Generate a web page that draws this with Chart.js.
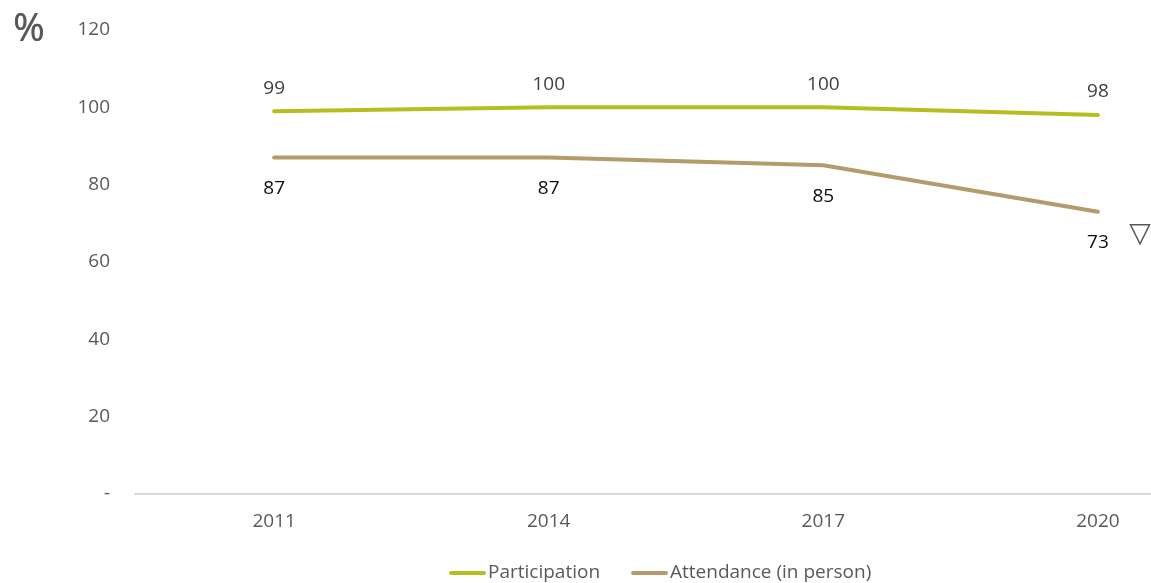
<!DOCTYPE html>
<html>
<head>
<meta charset="utf-8">
<script src="https://cdn.jsdelivr.net/npm/chart.js@4.4.1/dist/chart.umd.min.js"></script>
<style>
  html, body { margin: 0; padding: 0; background: #ffffff; overflow: hidden; }
  #wrap { position: relative; width: 1151px; height: 583px; }
</style>
</head>
<body>
<div id="wrap"><canvas id="c" width="1151" height="583"></canvas></div>
<script>
// ---- Data ----
const years = [2011, 2014, 2017, 2020];
const participation = [99, 100, 100, 98];
const attendance = [87, 87, 85, 73];
const seriesNames = ['Participation', 'Attendance (in person)'];
const yTickValues = [0, 20, 40, 60, 80, 100, 120];
const unitLabel = '%';
const declineMarker = '\u25BD';

const FONT = '"Open Sans", "Liberation Sans", sans-serif';
const GREY = '#595959';

// data labels + legend + unit + marker plugin
const decorPlugin = {
  id: 'decor',
  afterDatasetsDraw(chart) {
    const ctx = chart.ctx;
    ctx.save();
    ctx.font = '19px ' + FONT;
    ctx.textAlign = 'center';
    ctx.textBaseline = 'middle';
    chart.data.datasets.forEach((ds, di) => {
      const meta = chart.getDatasetMeta(di);
      meta.data.forEach((pt, i) => {
        const v = ds.data[i].y;
        const off = di === 0 ? -23 : 31;
        ctx.fillStyle = di === 0 ? '#404040' : '#0d0d0d';
        ctx.fillText(String(v), pt.x, pt.y + off);
      });
    });
    // decline marker next to last attendance point
    const m = chart.getDatasetMeta(1).data;
    const last = m[m.length - 1];
    ctx.font = '28px "DejaVu Sans", sans-serif';
    ctx.fillStyle = GREY;
    ctx.fillText(declineMarker, last.x + 42, last.y + 23);
    ctx.restore();
  },
  afterDraw(chart) {
    const ctx = chart.ctx;
    ctx.save();
    // unit label
    ctx.font = '38px ' + FONT;
    ctx.fillStyle = GREY;
    ctx.textAlign = 'left';
    ctx.textBaseline = 'middle';
    ctx.fillText(unitLabel, 13, 30);
    ctx.fillText(unitLabel, 13.6, 30);
    // legend
    ctx.font = '19px ' + FONT;
    const y = 573;
    const lineW = 37;
    const gapText = 2;
    const gapItems = 31;
    const items = chart.data.datasets.map(ds => ({ label: ds.label, color: ds.borderColor }));
    items.forEach(it => {
      it.w = lineW + gapText + ctx.measureText(it.label).width;
    });
    let x = 449;
    items.forEach(it => {
      ctx.strokeStyle = it.color;
      ctx.lineWidth = 4;
      ctx.lineCap = 'round';
      ctx.beginPath();
      ctx.moveTo(x + 2, y);
      ctx.lineTo(x + lineW - 2, y);
      ctx.stroke();
      ctx.fillStyle = GREY;
      ctx.fillText(it.label, x + lineW + gapText, y);
      x += it.w + gapItems;
    });
    ctx.restore();
  }
};

new Chart(document.getElementById('c'), {
  type: 'line',
  data: {
    datasets: [
      {
        label: seriesNames[0],
        data: years.map((yr, i) => ({ x: yr, y: participation[i] })),
        borderColor: '#B5BE1E',
        backgroundColor: '#B5BE1E',
        borderWidth: 4,
        borderCapStyle: 'round',
        pointRadius: 0,
        tension: 0
      },
      {
        label: seriesNames[1],
        data: years.map((yr, i) => ({ x: yr, y: attendance[i] })),
        borderColor: '#B49B69',
        backgroundColor: '#B49B69',
        borderWidth: 4,
        borderCapStyle: 'round',
        pointRadius: 0,
        tension: 0
      }
    ]
  },
  options: {
    responsive: false,
    animation: false,
    devicePixelRatio: 1,
    layout: { padding: { top: 30, right: 0, bottom: 39, left: 0 } },
    plugins: {
      legend: { display: false },
      tooltip: { enabled: false }
    },
    scales: {
      x: {
        type: 'linear',
        min: 2009.48,
        max: 2020.58,
        afterBuildTicks(scale) { scale.ticks = years.map(v => ({ value: v })); },
        afterFit(scale) { scale.height = 50; scale.paddingLeft = 0; scale.paddingRight = 0; },
        grid: { display: false, drawTicks: false },
        border: { display: true, color: '#d9d9d9', width: 2 },
        ticks: {
          padding: 16,
          color: GREY,
          font: { family: FONT, size: 19 },
          callback: v => String(v),
          maxRotation: 0,
          autoSkip: false
        }
      },
      y: {
        min: 0,
        max: 120,
        afterBuildTicks(scale) { scale.ticks = yTickValues.map(v => ({ value: v })); },
        afterFit(scale) { scale.width = 135; scale.paddingTop = 0; scale.paddingBottom = 0; },
        grid: { display: false, drawTicks: false },
        border: { display: false },
        ticks: {
          padding: 25,
          color: GREY,
          font: { family: FONT, size: 19 },
          callback: v => (v === 0 ? '-' : String(v))
        }
      }
    }
  },
  plugins: [decorPlugin]
});
</script>
</body>
</html>
